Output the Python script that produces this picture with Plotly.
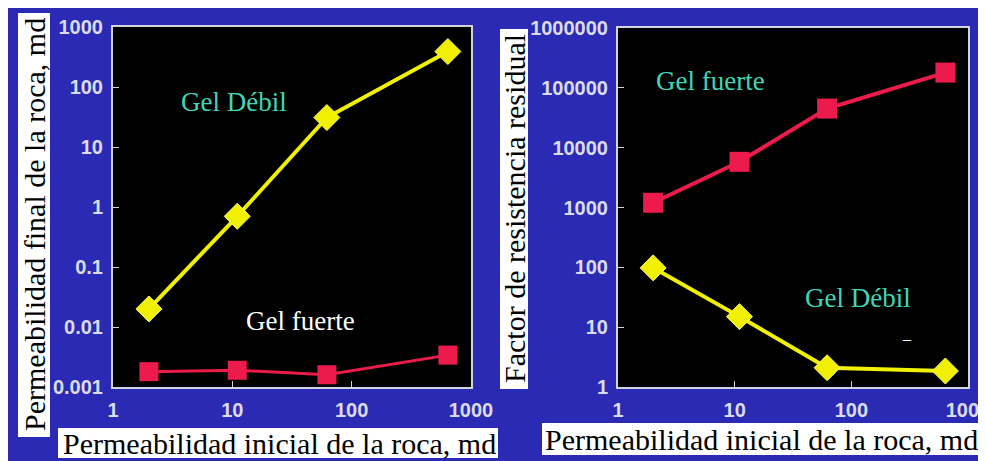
import plotly.graph_objects as go

# ---------------- data ----------------
perm_inicial = [2, 11, 62, 640]                       # md (x, both panels)
perm_final_debil = [0.02, 0.7, 31, 390]                # left panel, Gel Débil
perm_final_fuerte = [0.0018, 0.0019, 0.0016, 0.0034]   # left panel, Gel fuerte
frr_fuerte = [1200, 5800, 45000, 180000]               # right panel, Gel fuerte
frr_debil = [98, 15, 2.1, 1.85]                        # right panel, Gel Débil

x_tickvals = [1, 10, 100, 1000]
x_ticktext = ["1", "10", "100", "1000"]
y1_tickvals = [0.001, 0.01, 0.1, 1, 10, 100, 1000]
y1_ticktext = ["0.001", "0.01", "0.1", "1", "10", "100", "1000"]
y2_tickvals = [1, 10, 100, 1000, 10000, 100000, 1000000]
y2_ticktext = ["1", "10", "100", "1000", "10000", "100000", "1000000"]

# The page body keeps its default 8px margin (white), so the figure is
# placed 8px in from the top-left corner of the window.
OFF = 8
W, H = 986 - OFF, 461 - OFF
BLUE = "#2a2ab4"
YELLOW = "#f0f000"
RED = "#ec1b4b"
TEAL = "#3fd6b8"
FRAME = "#d4d4dc"

def px(x):
    return (x - OFF) / W

def py(y):
    return 1 - (y - OFF) / H

fig = go.Figure()

fig.add_trace(go.Scatter(x=perm_inicial, y=perm_final_debil, mode="lines+markers",
                         line=dict(color=YELLOW, width=4),
                         marker=dict(symbol="diamond", size=20, color=YELLOW,
                                     line=dict(color="#fafa60", width=1)),
                         xaxis="x", yaxis="y", showlegend=False))
fig.add_trace(go.Scatter(x=perm_inicial, y=perm_final_fuerte, mode="lines+markers",
                         line=dict(color=RED, width=3),
                         marker=dict(symbol="square", size=19, color=RED),
                         xaxis="x", yaxis="y", showlegend=False))
fig.add_trace(go.Scatter(x=perm_inicial, y=frr_fuerte, mode="lines+markers",
                         line=dict(color=RED, width=4),
                         marker=dict(symbol="square", size=20, color=RED),
                         xaxis="x2", yaxis="y2", showlegend=False))
fig.add_trace(go.Scatter(x=perm_inicial, y=frr_debil, mode="lines+markers",
                         line=dict(color=YELLOW, width=4),
                         marker=dict(symbol="diamond", size=20, color=YELLOW,
                                     line=dict(color="#fafa60", width=1)),
                         xaxis="x2", yaxis="y2", showlegend=False))

tickfont = dict(family="Liberation Sans, Arial, sans-serif", size=20,
                color="#dcdce8", weight="bold")

common_axis = dict(type="log", showgrid=False, zeroline=False, showline=True,
                   linecolor=FRAME, linewidth=2, mirror=True, ticks="inside",
                   ticklen=6, tickwidth=1, tickcolor=FRAME, tickfont=tickfont,
                   ticklabeloverflow="allow")

fig.update_layout(
    width=W, height=H,
    margin=dict(l=0, r=0, t=0, b=0, autoexpand=False),
    paper_bgcolor=BLUE,
    plot_bgcolor="black",
    xaxis=dict(domain=[px(113), px(471)], range=[0, 3], anchor="y",
               tickvals=x_tickvals, ticktext=x_ticktext, ticklabelstandoff=4,
               **common_axis),
    yaxis=dict(domain=[py(387), py(27)], range=[-3, 3], anchor="x",
               tickvals=y1_tickvals, ticktext=y1_ticktext, ticklabelstandoff=4,
               **common_axis),
    xaxis2=dict(domain=[px(618), px(968)], range=[0, 3], anchor="y2",
                tickvals=x_tickvals, ticktext=x_ticktext, ticklabelstandoff=4,
                **common_axis),
    yaxis2=dict(domain=[py(387), py(28)], range=[0, 6], anchor="x2",
                tickvals=y2_tickvals, ticktext=y2_ticktext, ticklabelstandoff=4,
                **common_axis),
)

# white label boxes
shapes = [
    dict(x0=px(18), x1=px(50), y0=py(437), y1=py(13)),
    dict(x0=px(500), x1=px(528), y0=py(389), y1=py(29)),
    dict(x0=px(58), x1=px(498), y0=py(458), y1=py(428)),
    dict(x0=px(542), x1=px(983), y0=py(455), y1=py(423)),
]
for s in shapes:
    fig.add_shape(type="rect", xref="paper", yref="paper", fillcolor="white",
                  line=dict(width=0), layer="above", **s)

serif = "Liberation Serif, Times New Roman, serif"
label_font = dict(family=serif, size=30, color="black")

def ann(text, x, y, font, angle=0):
    fig.add_annotation(text=text, xref="paper", yref="paper", x=px(x), y=py(y),
                       xanchor="center", yanchor="middle", showarrow=False,
                       textangle=angle, font=font)

ann("Permeabilidad final de la roca, md", 34, 225, label_font, -90)
ann("Factor de resistencia residual", 514, 209, label_font, -90)
ann("Permeabilidad inicial de la roca, md", 279, 443, label_font)
ann("Permeabilidad inicial de la roca, md", 761, 439, label_font)

gel_font = dict(family=serif, size=27, color=TEAL)
ann("Gel Débil", 234, 102, gel_font)
ann("Gel fuerte", 300, 321, dict(family=serif, size=27, color="white"))
ann("Gel fuerte", 710, 81, gel_font)
ann("Gel Débil", 858, 298, gel_font)
ann("–", 907, 338, dict(family=serif, size=16, color="white"))

fig.write_html("out.html")
